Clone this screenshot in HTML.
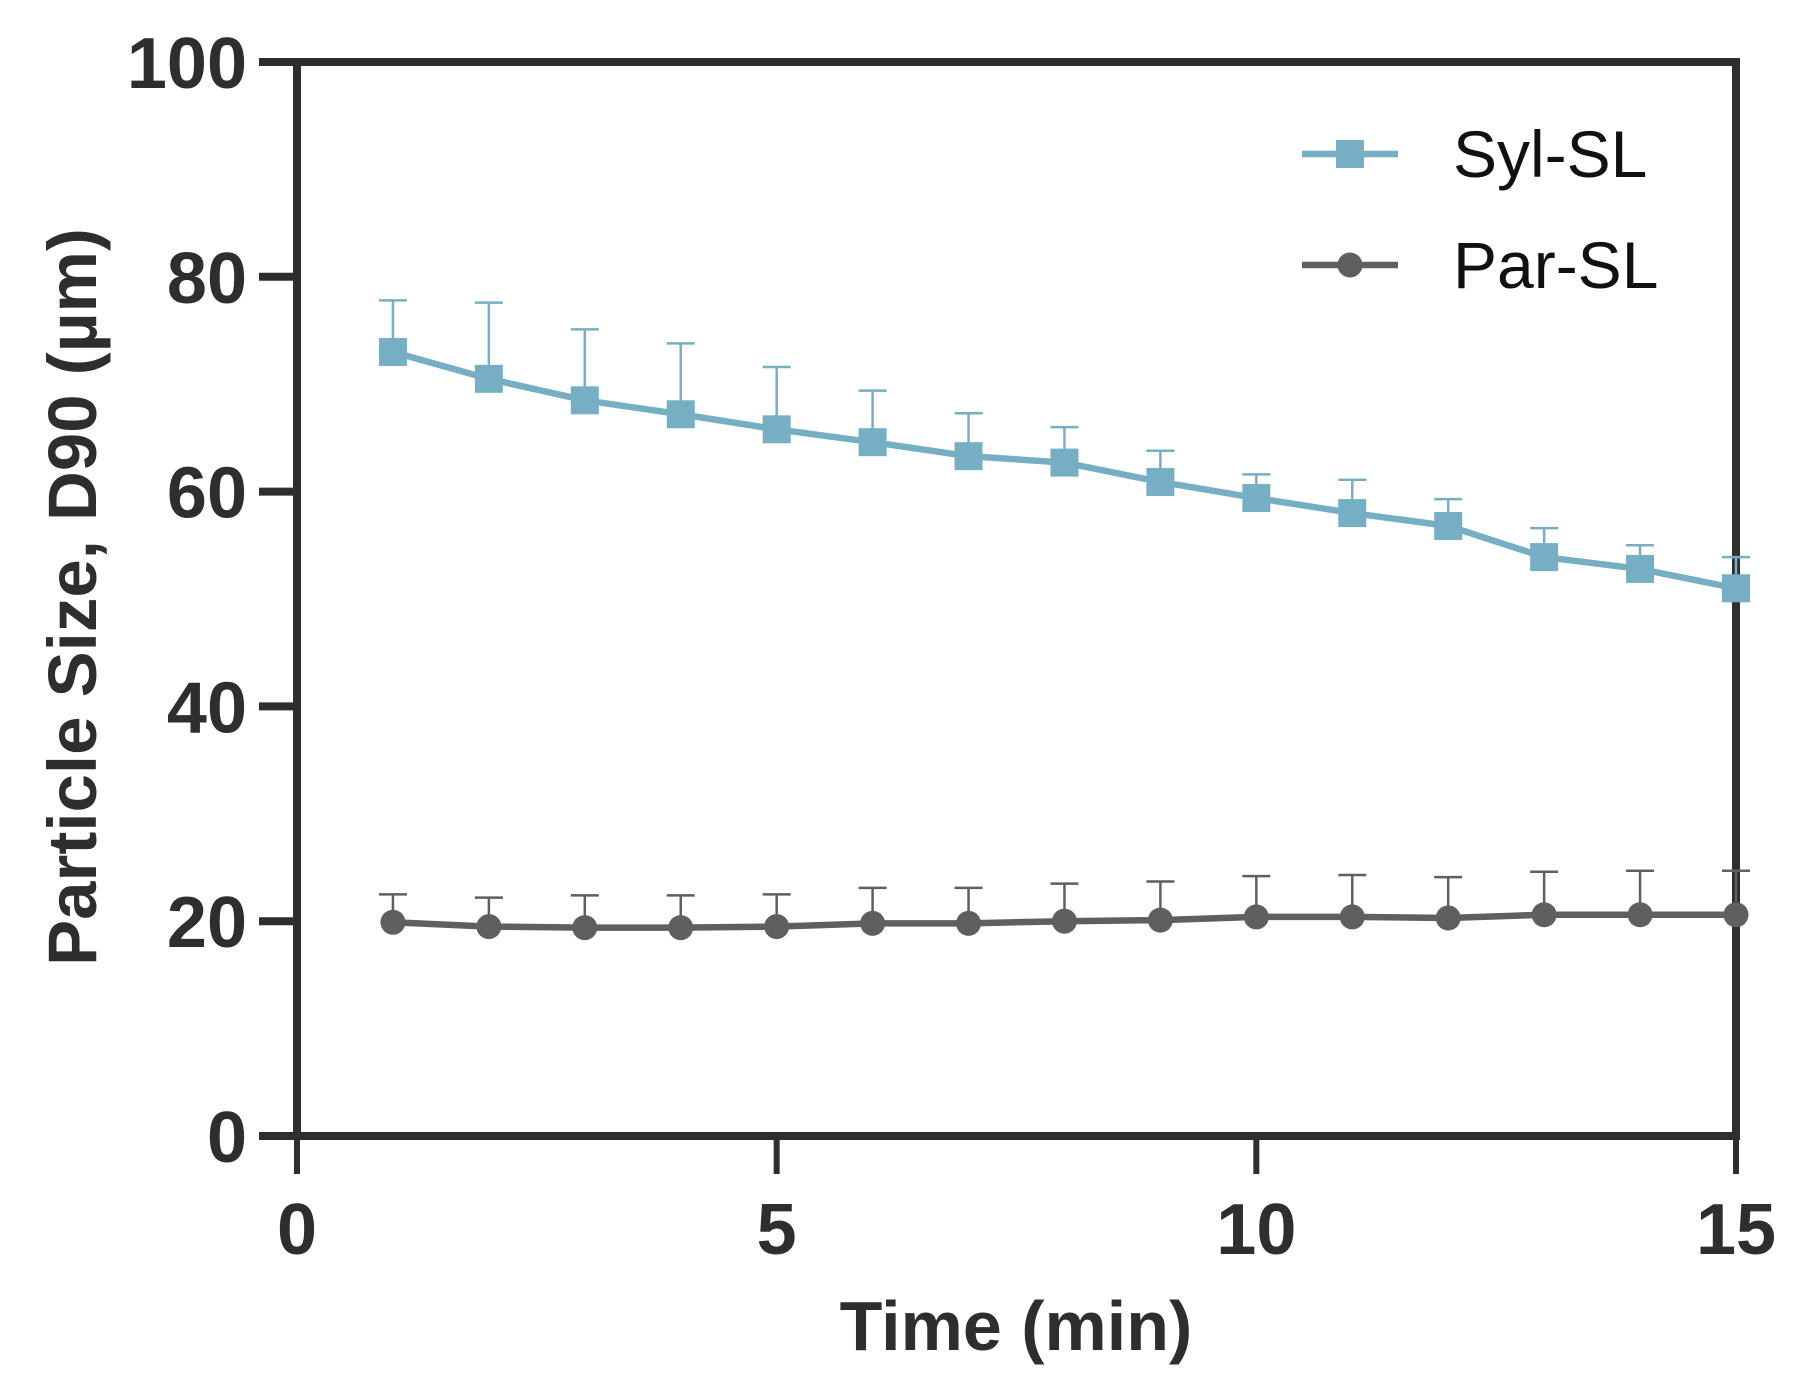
<!DOCTYPE html>
<html><head><meta charset="utf-8"><style>
html,body{margin:0;padding:0;background:#fff;}
svg{display:block;font-family:"Liberation Sans",Arial,sans-serif;}
</style></head><body>
<svg id="chart" width="1811" height="1392" viewBox="0 0 1811 1392"></svg>
<script>
const xTicks=[0,5,10,15];
const yTicks=[0,20,40,60,80,100];
const times=[1,2,3,4,5,6,7,8,9,10,11,12,13,14,15];
const sylMean=[73,70.5,68.5,67.2,65.8,64.6,63.3,62.7,60.9,59.4,58,56.8,53.9,52.8,51];
const sylErr=[4.8,7.1,6.6,6.6,5.8,4.8,4.0,3.3,2.9,2.2,3.1,2.5,2.7,2.2,2.9];
const parMean=[19.9,19.5,19.4,19.4,19.5,19.8,19.8,20,20.1,20.4,20.4,20.3,20.6,20.6,20.6];
const parErr=[2.6,2.7,3.0,3.0,3.0,3.3,3.3,3.5,3.6,3.8,3.9,3.8,4.0,4.1,4.1];
const NS='http://www.w3.org/2000/svg';
const svg=document.getElementById('chart');
const X0=297,X1=1736,Y0=1136,Y1=62;
const xs=v=>X0+(v-0)/(15-0)*(X1-X0);
const ys=v=>Y0-(v-0)/(100-0)*(Y0-Y1);
function mk(tag,attrs,parent){const e=document.createElementNS(NS,tag);for(const k in attrs)e.setAttribute(k,attrs[k]);(parent||svg).appendChild(e);return e;}
const dark='#2e2e2e';
const frame=mk('rect',{x:X0,y:Y1,width:X1-X0,height:Y0-Y1,fill:'none',stroke:dark,'stroke-width':8});


yTicks.forEach(v=>{
  const t=mk('line',{x1:259,x2:X0,y1:ys(v),y2:ys(v),stroke:dark,'stroke-width':8});
  
  
  const l=mk('text',{x:247,y:ys(v)+26,'text-anchor':'end','font-size':72,'font-weight':'bold',fill:dark});
  l.textContent=v;
  
  
});
xTicks.forEach(v=>{
  const t=mk('line',{x1:xs(v),x2:xs(v),y1:Y0,y2:1174,stroke:dark,'stroke-width':6});
  
  
  const l=mk('text',{x:xs(v),y:1254,'text-anchor':'middle','font-size':72,'font-weight':'bold',fill:dark});
  l.textContent=v;
  
  
});
const xt=mk('text',{x:1016,y:1350,'text-anchor':'middle','font-size':70,'font-weight':'bold',fill:dark});
xt.textContent='Time (min)';


const yt=mk('text',{x:0,y:0,'text-anchor':'middle','font-size':69,'font-weight':'bold',fill:dark,transform:'translate(96,597) rotate(-90)'});
yt.textContent='Particle Size, D90 (µm)';


function series(mean,err,color,shape,name){
  const g=mk('g',{});
  
  
  times.forEach((t,i)=>{
    const x=xs(t),top=ys(mean[i]+err[i]);
    const e=mk('path',{d:`M${x},${ys(mean[i])}V${top}M${x-14},${top}H${x+14}`,stroke:color,'stroke-width':2.5,fill:'none'},g);
    
    
  });
  const pl=mk('polyline',{points:times.map((t,i)=>xs(t)+','+ys(mean[i])).join(' '),fill:'none',stroke:color,'stroke-width':6.5},g);
  
  
  times.forEach((t,i)=>{
    const x=xs(t),y=ys(mean[i]);
    const m=shape==='sq'?mk('rect',{x:x-14,y:y-14,width:28,height:28,fill:color},g):mk('circle',{cx:x,cy:y,r:12.5,fill:color},g);
    
    
  });
}
series(parMean,parErr,'#5f5f5f','c','par-sl');
series(sylMean,sylErr,'#76afc4','sq','syl-sl');
function legend(y,color,shape,label,name){
  const g=mk('g',{});
  
  
  mk('line',{x1:1302,x2:1398,y1:y,y2:y,stroke:color,'stroke-width':6.5},g);
  if(shape==='sq')mk('rect',{x:1336,y:y-14,width:28,height:28,fill:color},g);
  else mk('circle',{cx:1350,cy:y,r:12.5,fill:color},g);
  const t=mk('text',{x:1453,y:y+23,'font-size':66,fill:'#111'},g);
  t.textContent=label;
}
legend(154,'#76afc4','sq','Syl-SL','syl-sl');
legend(265,'#5f5f5f','c','Par-SL','par-sl');
</script>
</body></html>
